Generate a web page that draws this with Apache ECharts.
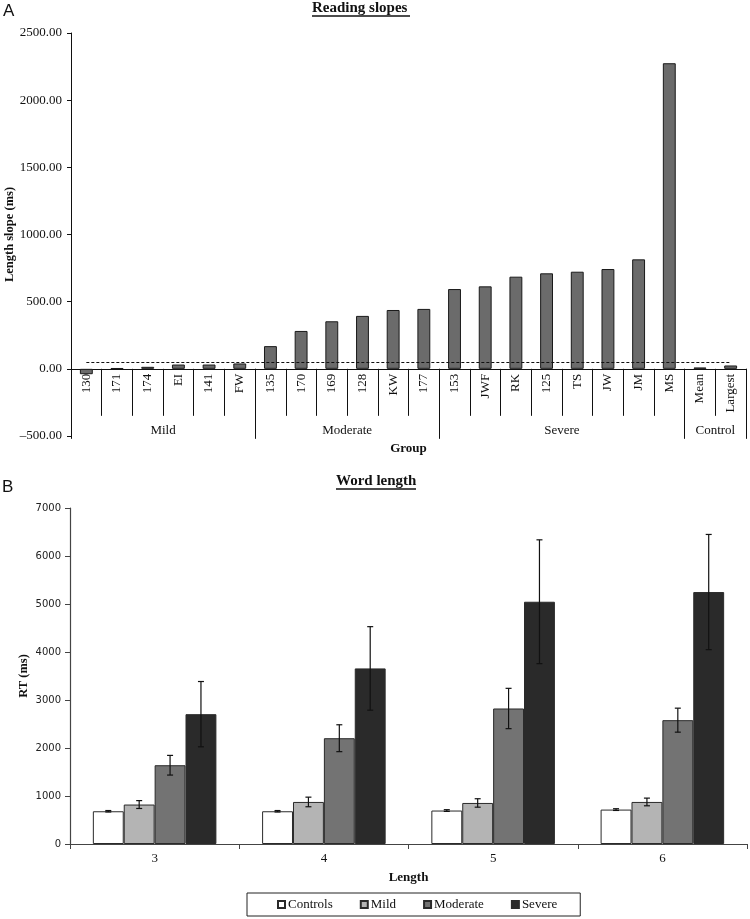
<!DOCTYPE html>
<html>
<head>
<meta charset="utf-8">
<script src="https://cdn.jsdelivr.net/npm/echarts@6/dist/echarts.min.js"></script>
<style>html,body{margin:0;padding:0;background:#fff;}#c{width:750px;height:919px;}</style>
</head>
<body>
<div id="c"></div>
<script>
// ---- Panel A data ----
const slopeCategories = ['130','171','174','EI','141','FW','135','170','169','128','KW','177','153','JWF','RK','125','TS','JW','JM','MS','Mean','Largest'];
const slopeValues = [-40, 5, 15, 32, 32, 40, 169, 282, 354, 394, 438, 446, 594, 614, 686, 711, 723, 743, 815, 2275, 10, 25];
const groupNames = ['Mild', 'Moderate', 'Severe', 'Control'];
const groupSizes = [6, 6, 8, 2];
const criterionValue = 52;
const slopeAxisMin = -500, slopeAxisMax = 2500, slopeAxisStep = 500;

// ---- Panel B data ----
const lengthCategories = ['3', '4', '5', '6'];
const seriesNames = ['Controls', 'Mild', 'Moderate', 'Severe'];
const controlsRT = [682, 682, 697, 717];
const mildRT = [822, 876, 855, 876];
const moderateRT = [1641, 2204, 2823, 2580];
const severeRT = [2705, 3658, 5047, 5249];
const controlsErr = [15, 15, 18, 18];
const mildErr = [82, 100, 88, 80];
const moderateErr = [205, 280, 420, 250];
const severeErr = [680, 870, 1290, 1200];
const rtAxisMin = 0, rtAxisMax = 7000, rtAxisStep = 1000;

const rtValues = [controlsRT, mildRT, moderateRT, severeRT];
const rtErrors = [controlsErr, mildErr, moderateErr, severeErr];
const barColors = ['#ffffff', '#b4b4b4', '#737373', '#2a2a2a'];

// group boundaries and centres
const groupBounds = [0];
groupSizes.forEach(function (s) { groupBounds.push(groupBounds[groupBounds.length - 1] + s); });
const groupCenters = groupNames.map(function (_, i) { return (groupBounds[i] + groupBounds[i + 1]) / 2; });
const totalCats = groupBounds[groupBounds.length - 1];

const serif = '"Liberation Serif", "Times New Roman", serif';
const gapRatio = 0.27;

// Panel A layout: frame grid spans -500..2500, bar grid spans 0..2500 with identical scale
const frameTop = 33, frameBottomPx = 436;
const frameH = frameBottomPx - frameTop;
const zeroPx = frameBottomPx - frameH * (0 - slopeAxisMin) / (slopeAxisMax - slopeAxisMin);

const errData = [];
rtValues.forEach(function (arr, s) {
  arr.forEach(function (v, i) {
    errData.push([i, v - rtErrors[s][i], v + rtErrors[s][i], s]);
  });
});

const chart = echarts.init(document.getElementById('c'), null, {renderer: 'canvas'});

const option = {
  animation: false,
  backgroundColor: '#fff',
  title: [
    {text: 'Reading slopes', left: 312, top: 1, padding: 0,
     textStyle: {fontFamily: serif, fontWeight: 'bold', fontSize: 15, color: '#111'}},
    {text: 'Word length', left: 336, top: 474, padding: 0,
     textStyle: {fontFamily: serif, fontWeight: 'bold', fontSize: 15, color: '#111'}},
    {text: 'A', left: 3, top: 3, padding: 0,
     textStyle: {fontFamily: '"Liberation Sans", Arial, sans-serif', fontWeight: 'normal', fontSize: 17, color: '#111'}},
    {text: 'B', left: 2, top: 479, padding: 0,
     textStyle: {fontFamily: '"Liberation Sans", Arial, sans-serif', fontWeight: 'normal', fontSize: 17, color: '#111'}}
  ],
  graphic: [
    {type: 'line', shape: {x1: 312, y1: 16, x2: 410, y2: 16}, style: {stroke: '#111', lineWidth: 1.3}},
    {type: 'line', shape: {x1: 336, y1: 489, x2: 416, y2: 489}, style: {stroke: '#111', lineWidth: 1.3}}
  ],
  legend: {
    data: seriesNames,
    left: 247, top: 893,
    orient: 'horizontal',
    padding: [5, 23, 5, 30],
    itemGap: 27,
    itemWidth: 7, itemHeight: 7,
    borderColor: '#222', borderWidth: 1,
    icon: 'rect',
    textStyle: {fontFamily: serif, fontSize: 13, color: '#111', padding: [0, 0, 0, -2]}
  },
  grid: [
    // 0: bars of panel A (0..2500)
    {left: 71, right: 4, top: frameTop, bottom: 919 - zeroPx, containLabel: false, outerBoundsMode: 'none'},
    // 1: panel B
    {left: 70, right: 3, top: 508, bottom: 919 - 844, containLabel: false, outerBoundsMode: 'none'},
    // 2: frame of panel A (-500..2500)
    {left: 71, right: 4, top: frameTop, bottom: 919 - frameBottomPx, containLabel: false, outerBoundsMode: 'none'}
  ],
  xAxis: [
    {
      type: 'category', gridIndex: 0, data: slopeCategories, position: 'bottom',
      axisLine: {onZero: false, lineStyle: {color: '#111', width: 1}},
      axisTick: {show: true, interval: 0, length: 47, alignWithLabel: false, lineStyle: {color: '#111'}},
      axisLabel: {interval: 0, rotate: 90, margin: 5, fontFamily: serif, fontSize: 13, color: '#111'},
      splitLine: {show: false}
    },
    {
      type: 'category', gridIndex: 1, data: lengthCategories, position: 'bottom',
      name: 'Length', nameLocation: 'middle', nameGap: 27, nameMoveOverlap: false,
      nameTextStyle: {fontFamily: serif, fontWeight: 'bold', fontSize: 13, color: '#111'},
      axisLine: {onZero: false, lineStyle: {color: '#444', width: 1.2}},
      axisTick: {show: true, length: 5, lineStyle: {color: '#444'}},
      axisLabel: {margin: 8, fontFamily: serif, fontSize: 13, color: '#111'},
      splitLine: {show: false}
    },
    {
      type: 'value', gridIndex: 0, min: 0, max: totalCats, position: 'bottom',
      name: 'Group', nameLocation: 'middle', nameGap: 73, nameMoveOverlap: false,
      nameTextStyle: {fontFamily: serif, fontWeight: 'bold', fontSize: 13, color: '#111'},
      axisLine: {show: false, onZero: false},
      axisTick: {show: true, length: 70, customValues: groupBounds, lineStyle: {color: '#111'}},
      axisLabel: {show: true, customValues: groupCenters, margin: 55, fontFamily: serif, fontSize: 13, color: '#111',
        formatter: function (v) {
          const idx = groupCenters.indexOf(v);
          return idx >= 0 ? groupNames[idx] : '';
        }},
      splitLine: {show: false}
    },
    {
      type: 'category', gridIndex: 2, data: slopeCategories, show: false,
      axisLine: {onZero: false}
    }
  ],
  yAxis: [
    {
      type: 'value', gridIndex: 0, min: 0, max: slopeAxisMax, show: false,
      axisLine: {onZero: false}, splitLine: {show: false}
    },
    {
      type: 'value', gridIndex: 1, min: rtAxisMin, max: rtAxisMax, interval: rtAxisStep,
      name: 'RT (ms)', nameLocation: 'middle', nameGap: 40, nameRotate: 90, nameMoveOverlap: false,
      nameTextStyle: {fontFamily: serif, fontWeight: 'bold', fontSize: 12.5, color: '#111'},
      axisLine: {show: true, onZero: false, lineStyle: {color: '#444', width: 1.2}},
      axisTick: {show: true, length: 5, lineStyle: {color: '#444'}},
      axisLabel: {margin: 9, fontFamily: '"DejaVu Sans", sans-serif', fontSize: 10, color: '#222',
        formatter: function (v) { return String(v); }},
      splitLine: {show: false}
    },
    {
      type: 'value', gridIndex: 2, min: slopeAxisMin, max: slopeAxisMax, interval: slopeAxisStep,
      name: 'Length slope (ms)', nameLocation: 'middle', nameGap: 55, nameRotate: 90, nameMoveOverlap: false,
      nameTextStyle: {fontFamily: serif, fontWeight: 'bold', fontSize: 12.5, color: '#111'},
      axisLine: {show: true, onZero: false, lineStyle: {color: '#111', width: 1}},
      axisTick: {show: true, length: 4, lineStyle: {color: '#111'}},
      axisLabel: {margin: 9, fontFamily: serif, fontSize: 13, color: '#111',
        formatter: function (v) { return v.toFixed(2).replace('-', '\u2013'); }},
      splitLine: {show: false}
    }
  ],
  series: [
    {
      type: 'bar', name: 'slopes', xAxisIndex: 0, yAxisIndex: 0,
      data: slopeValues, barWidth: '42%', clip: false,
      itemStyle: {color: '#6b6b6b', borderColor: '#1a1a1a', borderWidth: 1},
      markLine: {
        silent: true, symbol: 'none', label: {show: false},
        lineStyle: {color: '#111', type: [3, 2], width: 1},
        data: [[{coord: [0, criterionValue]}, {coord: [slopeCategories.length - 1, criterionValue]}]]
      }
    }
  ].concat(seriesNames.map(function (n, s) {
    return {
      type: 'bar', name: n, xAxisIndex: 1, yAxisIndex: 1,
      data: rtValues[s], barGap: '0%', barCategoryGap: (gapRatio * 100) + '%',
      itemStyle: {color: barColors[s], borderColor: '#2a2a2a', borderWidth: 1}
    };
  })).concat([{
    type: 'custom', name: 'errors', xAxisIndex: 1, yAxisIndex: 1, z: 10,
    data: errData,
    encode: {x: 0, y: [1, 2]},
    renderItem: function (params, api) {
      const i = api.value(0), lo = api.value(1), hi = api.value(2), s = api.value(3);
      const pHi = api.coord([i, hi]);
      const pLo = api.coord([i, lo]);
      const bw = api.size([1, 0])[0];
      const barW = bw * (1 - gapRatio) / seriesNames.length;
      const cx = pHi[0] + (s - (seriesNames.length - 1) / 2) * barW;
      const cap = 3;
      const st = {stroke: '#111', lineWidth: 1.2};
      return {
        type: 'group',
        children: [
          {type: 'line', shape: {x1: cx, y1: pHi[1], x2: cx, y2: pLo[1]}, style: st},
          {type: 'line', shape: {x1: cx - cap, y1: pHi[1], x2: cx + cap, y2: pHi[1]}, style: st},
          {type: 'line', shape: {x1: cx - cap, y1: pLo[1], x2: cx + cap, y2: pLo[1]}, style: st}
        ]
      };
    }
  }])
};

chart.setOption(option);
</script>
</body>
</html>
